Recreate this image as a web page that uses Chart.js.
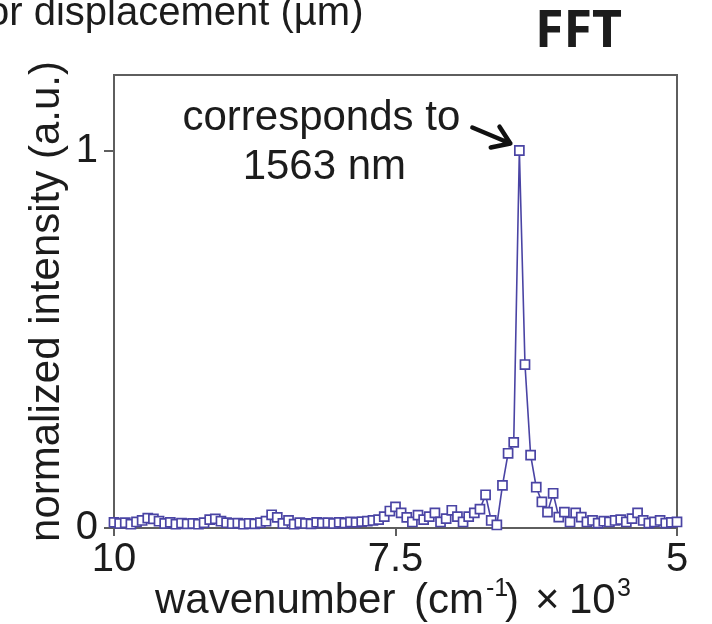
<!DOCTYPE html>
<html>
<head>
<meta charset="utf-8">
<title>FFT</title>
<script src="https://cdn.jsdelivr.net/npm/chart.js@4.4.1/dist/chart.umd.min.js"></script>
<style>
  html, body { margin: 0; padding: 0; background: #fff; }
  #wrap { width: 712px; height: 624px; }
</style>
</head>
<body>
<div id="wrap"><canvas id="fftChart" width="712" height="624"></canvas></div>
<script>
// wavenumber axis, in units of 10^3 cm^-1 (plotted high to low)
var wavenumbers = [
  10.00, 9.95, 9.90, 9.85, 9.80, 9.75, 9.70, 9.65, 9.60, 9.55,
  9.50, 9.45, 9.40, 9.35, 9.30, 9.25, 9.20, 9.15, 9.10, 9.05,
  9.00, 8.95, 8.90, 8.85, 8.80, 8.75, 8.70, 8.65, 8.60, 8.55,
  8.50, 8.45, 8.40, 8.35, 8.30, 8.25, 8.20, 8.15, 8.10, 8.05,
  8.00, 7.95, 7.90, 7.85, 7.80, 7.75, 7.70, 7.65, 7.60, 7.55,
  7.50, 7.45, 7.40, 7.35, 7.30, 7.25, 7.20, 7.15, 7.10, 7.05,
  7.00, 6.95, 6.90, 6.85, 6.80, 6.75, 6.70, 6.65, 6.60, 6.55,
  6.50, 6.45, 6.40, 6.35, 6.30, 6.25, 6.20, 6.15, 6.10, 6.05,
  6.00, 5.95, 5.90, 5.85, 5.80, 5.75, 5.70, 5.65, 5.60, 5.55,
  5.50, 5.45, 5.40, 5.35, 5.30, 5.25, 5.20, 5.15, 5.10, 5.05,
  5.00
];

// normalized FFT magnitude
var intensities = [
  0.015, 0.012, 0.014, 0.010, 0.016, 0.020, 0.026, 0.024, 0.018, 0.012,
  0.015, 0.010, 0.013, 0.011, 0.012, 0.010, 0.014, 0.022, 0.024, 0.018,
  0.014, 0.012, 0.013, 0.010, 0.012, 0.011, 0.014, 0.018, 0.035, 0.028,
  0.012, 0.020, 0.010, 0.014, 0.012, 0.011, 0.015, 0.013, 0.014, 0.012,
  0.015, 0.013, 0.016, 0.015, 0.017, 0.018, 0.020, 0.022, 0.030, 0.045,
  0.056, 0.040, 0.028, 0.016, 0.034, 0.022, 0.030, 0.040, 0.016, 0.025,
  0.047, 0.030, 0.016, 0.030, 0.040, 0.050, 0.088, 0.020, 0.008, 0.113,
  0.198, 0.227, 1.000, 0.433, 0.193, 0.108, 0.069, 0.042, 0.092, 0.029,
  0.042, 0.016, 0.040, 0.029, 0.016, 0.020, 0.013, 0.018, 0.016, 0.020,
  0.022, 0.016, 0.025, 0.040, 0.020, 0.013, 0.016, 0.020, 0.013, 0.015,
  0.016
];

var xTicks = [10, 7.5, 5];
var yTicks = [0, 1];
var peakIndex = 72;
var peakNote = ['corresponds to', '1563 nm'];

var LINE_COLOR = '#4a44a4';
var AXIS_COLOR = '#5e5e5e';
var TEXT_COLOR = '#1c1c1c';
var FONT = '"Liberation Sans", Arial, sans-serif';

Chart.defaults.font.family = FONT;
Chart.defaults.color = TEXT_COLOR;

var points = wavenumbers.map(function (x, i) {
  return { x: x, y: intensities[i] };
});

// top/right frame, annotation arrow and the free-standing labels
var decorations = {
  id: 'decorations',
  beforeDatasetsDraw: function (chart) {
    var ctx = chart.ctx;
    var a = chart.chartArea;
    ctx.save();
    ctx.strokeStyle = AXIS_COLOR;
    ctx.lineWidth = 2;
    ctx.beginPath();
    ctx.moveTo(a.left, a.top);
    ctx.lineTo(a.right, a.top);
    ctx.lineTo(a.right, a.bottom);
    ctx.stroke();
    ctx.restore();
  },
  afterDraw: function (chart) {
    var ctx = chart.ctx;
    var peak = chart.getDatasetMeta(0).data[peakIndex];
    ctx.save();
    ctx.fillStyle = TEXT_COLOR;

    // peak annotation
    ctx.font = '42px ' + FONT;
    ctx.textAlign = 'center';
    ctx.textBaseline = 'alphabetic';
    ctx.fillText(peakNote[0], peak.x - 198, peak.y - 21);
    ctx.fillText(peakNote[1], peak.x - 195, peak.y + 28);

    var tipX = peak.x - 9, tipY = peak.y - 7;
    var tailX = peak.x - 47, tailY = peak.y - 23;
    var ang = Math.atan2(tipY - tailY, tipX - tailX);
    ctx.strokeStyle = '#111';
    ctx.lineWidth = 4.5;
    ctx.lineCap = 'round';
    ctx.lineJoin = 'round';
    ctx.beginPath();
    ctx.moveTo(tailX, tailY);
    ctx.lineTo(tipX, tipY);
    ctx.moveTo(tipX - 20 * Math.cos(ang - 0.6), tipY - 20 * Math.sin(ang - 0.6));
    ctx.lineTo(tipX, tipY);
    ctx.lineTo(tipX - 20 * Math.cos(ang + 0.6), tipY - 20 * Math.sin(ang + 0.6));
    ctx.stroke();

    // x axis title with superscripts
    ctx.textAlign = 'left';
    var base = 613;
    ctx.font = '42px ' + FONT;
    ctx.fillText('wavenumber', 155, base);
    ctx.fillText('(cm', 414, base);
    ctx.fillText(')', 505, base);
    ctx.fillText('\u00d7', 535, base);
    ctx.fillText('10', 569, base);
    ctx.font = '25px ' + FONT;
    ctx.fillText('-1', 486, base - 17);
    ctx.fillText('3', 617, base - 17);

    // headline pieces
    ctx.font = '40px ' + FONT;
    ctx.fillText('or displacement (\u00b5m)', -13, 25);
    ctx.font = 'bold 52px "Noto Sans", "Open Sans", sans-serif';
    ctx.fillText('FFT', 535, 47);
    ctx.restore();
  }
};

new Chart(document.getElementById('fftChart'), {
  type: 'line',
  data: {
    datasets: [{
      data: points,
      borderColor: LINE_COLOR,
      borderWidth: 1.6,
      pointStyle: 'rect',
      pointRadius: 6.4,
      pointBorderWidth: 1.7,
      pointBorderColor: LINE_COLOR,
      pointBackgroundColor: '#fff',
      tension: 0,
      clip: false
    }]
  },
  options: {
    responsive: false,
    animation: false,
    events: [],
    layout: { padding: { top: 75, right: 35, bottom: 0, left: 0 } },
    plugins: {
      legend: { display: false },
      tooltip: { enabled: false }
    },
    scales: {
      x: {
        type: 'linear',
        reverse: true,
        min: 5,
        max: 10,
        afterBuildTicks: function (scale) {
          scale.ticks = xTicks.map(function (v) { return { value: v }; });
        },
        afterFit: function (scale) { scale.height = 96; },
        ticks: {
          autoSkip: false,
          maxRotation: 0,
          padding: 0,
          font: { size: 40 },
          color: TEXT_COLOR,
          callback: function (v) { return String(v); }
        },
        grid: {
          drawOnChartArea: false,
          drawTicks: true,
          tickLength: 8,
          color: AXIS_COLOR,
          lineWidth: 2
        },
        border: { display: true, color: AXIS_COLOR, width: 2 }
      },
      y: {
        min: 0,
        max: 1.2,
        afterBuildTicks: function (scale) {
          scale.ticks = yTicks.map(function (v) { return { value: v }; });
        },
        afterFit: function (scale) { scale.width = 114; },
        title: {
          display: true,
          text: 'normalized intensity (a.u.)',
          font: { size: 42 },
          color: TEXT_COLOR,
          padding: { top: 22, bottom: 0 }
        },
        ticks: {
          padding: 6,
          font: { size: 40 },
          color: TEXT_COLOR,
          callback: function (v) { return String(v); }
        },
        grid: {
          drawOnChartArea: false,
          drawTicks: true,
          tickLength: 10,
          color: AXIS_COLOR,
          lineWidth: 2
        },
        border: { display: true, color: AXIS_COLOR, width: 2 }
      }
    }
  },
  plugins: [decorations]
});
</script>
</body>
</html>
